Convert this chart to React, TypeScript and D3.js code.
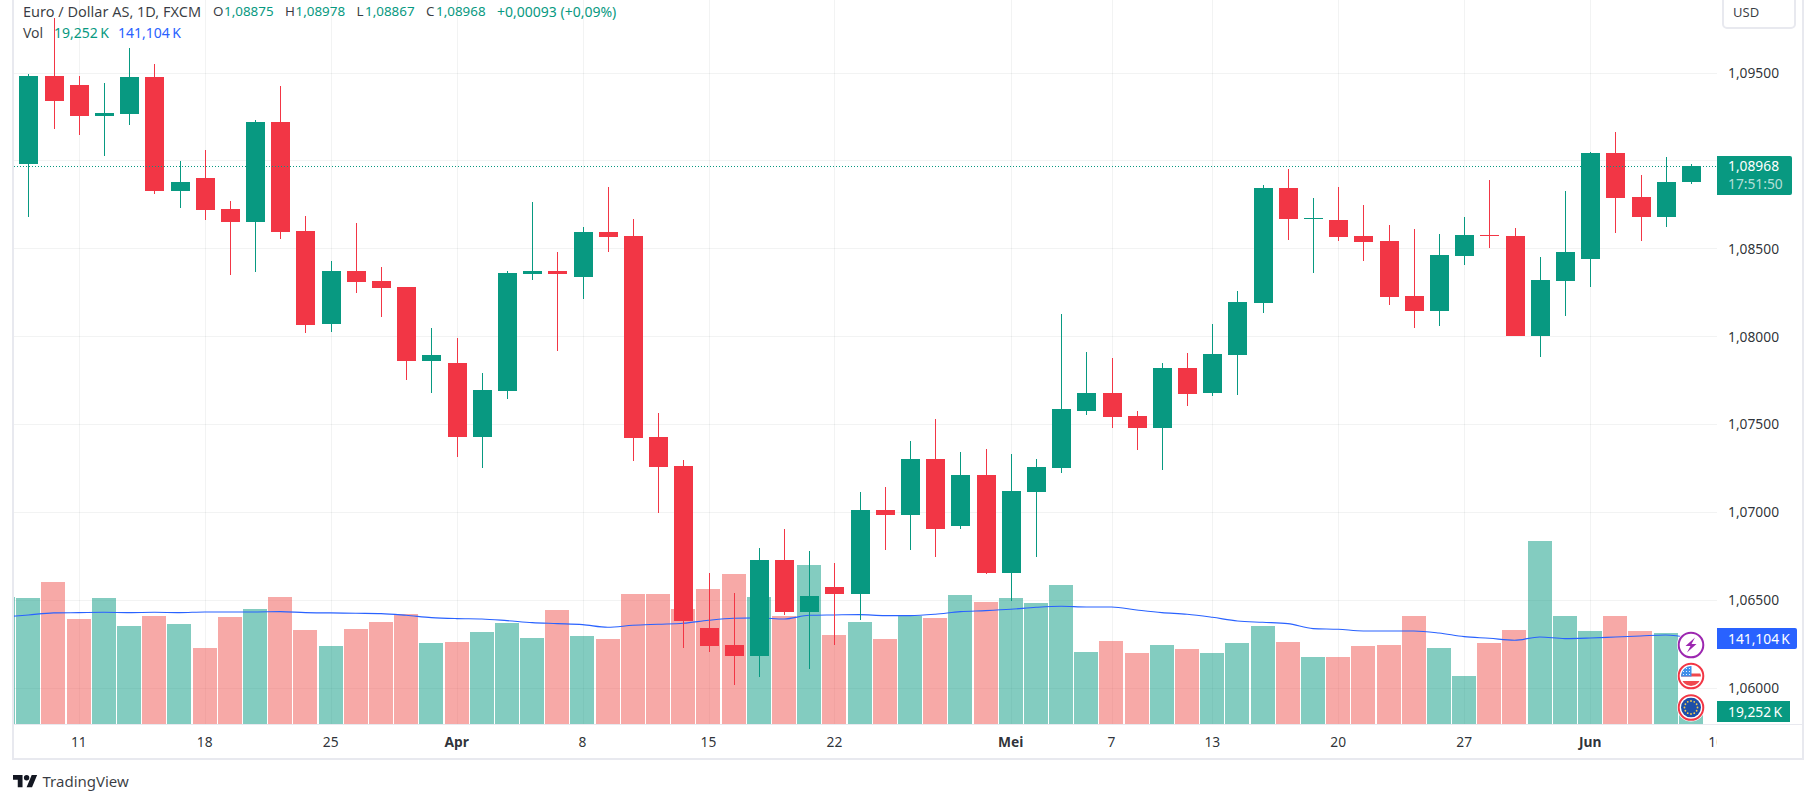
import * as d3 from "d3";

// daily EUR/USD candles, 7 Mar onward
const opens = [
  1.08979, 1.0948, 1.09429, 1.09252, 1.09264, 1.09474, 1.08826, 1.089, 1.08723, 1.08649, 1.09218, 1.08598,
  1.08069, 1.0837, 1.08313, 1.08279, 1.07858, 1.07847, 1.07426, 1.07687, 1.08353, 1.0837, 1.08336, 1.08592,
  1.0857, 1.07426, 1.07261, 1.06339, 1.06242, 1.06179, 1.06726, 1.0643, 1.06572, 1.06532, 1.0701, 1.06982,
  1.073, 1.06919, 1.07209, 1.06652, 1.07113, 1.07249, 1.07574, 1.07676, 1.07545, 1.07477, 1.07818, 1.07676,
  1.07892, 1.08188, 1.08843, 1.08666, 1.08661, 1.0857, 1.08541, 1.08228, 1.08143, 1.08456, 1.08575, 1.0857,
  1.08, 1.08313, 1.08439, 1.09042, 1.08791, 1.08678, 1.08875,
];
const closes = [
  1.0948, 1.0934, 1.09252, 1.0927, 1.09474, 1.08826, 1.08877, 1.08717, 1.08649, 1.09218, 1.08592, 1.08063,
  1.0837, 1.08308, 1.08274, 1.07858, 1.07892, 1.07426, 1.07693, 1.08359, 1.0837, 1.08353, 1.08592, 1.08564,
  1.0742, 1.07255, 1.06378, 1.06236, 1.06179, 1.06726, 1.0643, 1.06521, 1.06532, 1.0701, 1.06982, 1.073,
  1.06902, 1.07209, 1.06652, 1.07118, 1.07255, 1.07585, 1.07676, 1.07539, 1.07477, 1.07818, 1.0767, 1.07898,
  1.08194, 1.08843, 1.08666, 1.08672, 1.08564, 1.08535, 1.08222, 1.08143, 1.08461, 1.08575, 1.0857, 1.08,
  1.08319, 1.08478, 1.09042, 1.08786, 1.08678, 1.08877, 1.08968,
];
const highs = [
  1.09491, 1.09808, 1.0948, 1.0944, 1.09639, 1.09548, 1.08996, 1.09059, 1.08769, 1.0923, 1.09423, 1.08683,
  1.08427, 1.08644, 1.08393, 1.08279, 1.08046, 1.07989, 1.0779, 1.0837, 1.08763, 1.08478, 1.08621, 1.08848,
  1.08666, 1.07562, 1.07295, 1.06652, 1.06538, 1.06794, 1.06902, 1.06777, 1.06709, 1.07113, 1.07141, 1.07403,
  1.07528, 1.0734, 1.07357, 1.07329, 1.073, 1.08126, 1.07909, 1.07875, 1.07574, 1.07847, 1.07904, 1.08069,
  1.08257, 1.0886, 1.08951, 1.08786, 1.08848, 1.08746, 1.08632, 1.08609, 1.08581, 1.08678, 1.08888, 1.08615,
  1.0845, 1.08826, 1.09048, 1.09161, 1.08917, 1.09019, 1.08978,
];
const lows = [
  1.0868, 1.09178, 1.09144, 1.09025, 1.09201, 1.08809, 1.08729, 1.08661, 1.08348, 1.08365, 1.08552, 1.08018,
  1.08023, 1.08245, 1.08109, 1.0775, 1.07676, 1.07312, 1.07249, 1.07642, 1.08319, 1.07915, 1.08211, 1.08478,
  1.07289, 1.06993, 1.06225, 1.06202, 1.06014, 1.0606, 1.06413, 1.06105, 1.06242, 1.06384, 1.06783, 1.06783,
  1.06743, 1.06902, 1.06646, 1.06492, 1.06743, 1.07221, 1.07551, 1.07477, 1.07352, 1.07238, 1.07602, 1.07659,
  1.07665, 1.08131, 1.08547, 1.08359, 1.08541, 1.08427, 1.08177, 1.08046, 1.08057, 1.08404, 1.08501, 1.08,
  1.07881, 1.08114, 1.08279, 1.08587, 1.08541, 1.08621, 1.08867,
];

// volume in thousands, first entry is the bar before the first candle
const volumes = [
  207.5, 206.7, 232.9, 172.2, 206.7, 160.7, 177.1, 164, 124.6, 175.5, 188.6, 208.3, 154.2, 127.9, 155.8, 167.3,
  180.4, 132.8, 134.5, 150.9, 165.6, 141, 187, 144.3, 139.4, 213.2, 213.2, 188.6, 221.4, 246, 208.3, 177.1,
  260.8, 146, 167.3, 139.4, 177.1, 173.9, 211.6, 200.1, 206.7, 198.5, 228, 118.1, 136.1, 116.4, 129.6, 123,
  116.4, 132.8, 160.7, 134.5, 109.9, 109.9, 127.9, 129.6, 177.1, 124.6, 78.7, 132.8, 154.2, 300.1, 177.1, 152.5,
  177.1, 152.5, 149.2, 19.252,
];
const volumeMA = [
  175.5, 178.8, 182.1, 182.6, 183.1, 182.6, 183.1, 182.6, 183.7, 183.7, 183.7, 184.2, 182.6, 182.1, 181.5, 181,
  178.2, 174.4, 172.8, 172.2, 169.5, 166.2, 164.6, 162.9, 158.5, 161.8, 163.5, 165.1, 170, 173.3, 173.9, 172.2,
  178.2, 178.8, 179.3, 177.7, 177.7, 179.9, 184.2, 185.9, 188.1, 191.3, 193, 191.9, 191.9, 187, 182.6, 179.9,
  174.9, 168.9, 166.7, 164.6, 156.4, 155.3, 152.5, 152.5, 152.5, 149.2, 143.2, 140.5, 137.2, 142.7, 140, 141,
  142.7, 144.3, 146, 141.1,
];

const priceTicks = [1.095, 1.09, 1.085, 1.08, 1.075, 1.07, 1.065, 1.06];
const dateTickBars = [2, 7, 12, 17, 22, 27, 32, 39, 43, 47, 52, 57, 62, 67];
const dateTickLabels = ["11", "18", "25", "Apr", "8", "15", "22", "Mei", "7", "13", "20", "27", "Jun", "10"];
const monthLabels = ["Apr", "Mei", "Jun"];
const lastPrice = 1.08968;

const UP = "#089981";
const DOWN = "#F23645";
const VOL_UP = "rgba(8,153,129,0.5)";
const VOL_DOWN = "rgba(239,83,80,0.5)";
const BLUE = "#2962FF";
const GRID = "rgba(42,46,57,0.06)";
const BORDER = "#E8E9EF";
const INK = "#131722";
const FONT = "'Noto Sans', sans-serif";

const WIDTH = 1815;
const HEIGHT = 803;
const PANE_LEFT = 14;
const PANE_RIGHT = 1717;
const PANE_BOTTOM = 724;

const x = d3.scaleLinear().domain([0, 66]).range([28.4, 1690.9]);
const y = d3.scaleLinear().domain([1.06, 1.095]).range([687.5, 72.5]);
const yVol = d3.scaleLinear().domain([0, 300]).range([PANE_BOTTOM, 541]);

const step = x(1) - x(0);
const fmtPrice = (p: number) => d3.format(".5f")(p).replace(".", ",");

const maLine = d3
  .line<number>()
  .x((_, i) => x(i - 1))
  .y((d) => yVol(d))
  .curve(d3.curveMonotoneX);

// TradingView mark, 36 units wide
const LOGO_PATH = "M14 22H7V11H0V4h14v18zM28 22h-8l7.5-18h8L28 22z";

function Header() {
  const t = { fontFamily: FONT, fontSize: 13.4, dominantBaseline: "central" as const };
  return (
    <g {...t}>
      <text x={23} y={11} fontSize={14.5} fill={INK} fillOpacity={0.85}>Euro / Dollar AS, 1D, FXCM</text>
      <text x={213} y={11} fill={INK} fillOpacity={0.85}>O</text>
      <text x={224} y={11} fill={UP}>1,08875</text>
      <text x={285} y={11} fill={INK} fillOpacity={0.85}>H</text>
      <text x={295.5} y={11} fill={UP}>1,08978</text>
      <text x={356.5} y={11} fill={INK} fillOpacity={0.85}>L</text>
      <text x={365} y={11} fill={UP}>1,08867</text>
      <text x={426} y={11} fill={INK} fillOpacity={0.85}>C</text>
      <text x={436} y={11} fill={UP}>1,08968</text>
      <text x={497} y={11} fontSize={14} fill={UP}>+0,00093 (+0,09%)</text>
      <text x={23} y={32} fontSize={14} fill={INK} fillOpacity={0.85}>Vol</text>
      <text x={54} y={32} fontSize={14} fill={UP}>19,252{"\u202f"}K</text>
      <text x={118} y={32} fontSize={14} fill={BLUE}>141,104{"\u202f"}K</text>
    </g>
  );
}

function SourceIcons() {
  const cx = 1691;
  const stars = d3.range(12).map((i) => (i / 12) * Math.PI * 2);
  return (
    <g>
      <defs>
        <clipPath id="flag-us"><circle cx={cx} cy={676} r={10} /></clipPath>
        <clipPath id="flag-eu"><circle cx={cx} cy={707.5} r={10} /></clipPath>
      </defs>
      <circle cx={cx} cy={645} r={14} fill="#fff" />
      <circle cx={cx} cy={645} r={12.3} fill="#fff" stroke="#9C27B0" strokeWidth={2} />
      <path
        d={`M${cx + 4} ${645 - 7.5}L${cx - 5.5} ${645 + 1}H${cx - 0.5}L${cx - 4} ${645 + 7.5}L${cx + 5.5} ${645 - 1}H${cx + 0.5}Z`}
        fill="#9C27B0"
      />
      <circle cx={cx} cy={676} r={14} fill="#fff" />
      <circle cx={cx} cy={676} r={12.3} fill="#fff" stroke={DOWN} strokeWidth={2} />
      <g clipPath="url(#flag-us)">
        <rect x={cx - 10} y={666} width={20} height={20} fill="#fff" />
        <rect x={cx - 10} y={673.5} width={20} height={3} fill="#F0484E" />
        <rect x={cx - 10} y={681} width={20} height={5} fill="#F0484E" />
        <rect x={cx - 10} y={666} width={10.5} height={10.5} fill="#3E8FEA" />
        {d3.range(3).flatMap((r) =>
          d3.range(3).map((c) => (
            <circle key={`${r}-${c}`} cx={cx - 7.5 + c * 3} cy={668.5 + r * 3} r={0.6} fill="#fff" />
          )),
        )}
      </g>
      <circle cx={cx} cy={707.5} r={14} fill="#fff" />
      <circle cx={cx} cy={707.5} r={12.3} fill="#fff" stroke={DOWN} strokeWidth={2} />
      <g clipPath="url(#flag-eu)">
        <rect x={cx - 10} y={697.5} width={20} height={20} fill="#1D4FA8" />
        {stars.map((a) => (
          <circle key={a} cx={cx + 6.5 * Math.cos(a)} cy={707.5 + 6.5 * Math.sin(a)} r={0.9} fill="#F2C94C" />
        ))}
      </g>
    </g>
  );
}

export default function App() {
  return (
    <svg
      width={WIDTH}
      height={HEIGHT}
      style={{ position: "absolute", left: 0, top: 0, display: "block", background: "#fff" }}
    >
      <defs>
        <clipPath id="pane"><rect x={PANE_LEFT} y={0} width={PANE_RIGHT - PANE_LEFT} height={PANE_BOTTOM} /></clipPath>
        <clipPath id="time-axis"><rect x={PANE_LEFT} y={PANE_BOTTOM} width={PANE_RIGHT - PANE_LEFT - 0.5} height={35} /></clipPath>
      </defs>

      {/* frame */}
      <g shapeRendering="crispEdges">
        <rect x={12} y={0} width={2} height={760} fill={BORDER} />
        <rect x={1802} y={0} width={2} height={760} fill={BORDER} />
        <rect x={12} y={758} width={1792} height={2} fill={BORDER} />
        <rect x={14} y={724} width={1788} height={1} fill={BORDER} />
      </g>

      <g clipPath="url(#pane)">
        {/* grid */}
        <g shapeRendering="crispEdges" stroke={GRID}>
          {priceTicks.map((p) => (
            <line key={p} x1={PANE_LEFT} x2={PANE_RIGHT} y1={Math.round(y(p)) + 0.5} y2={Math.round(y(p)) + 0.5} />
          ))}
          {dateTickBars.slice(0, -1).map((b) => (
            <line key={b} x1={Math.round(x(b)) + 0.5} x2={Math.round(x(b)) + 0.5} y1={0} y2={PANE_BOTTOM} />
          ))}
        </g>

        {/* volume */}
        <g shapeRendering="crispEdges">
          {volumes.map((v, k) => {
            const i = k - 1;
            const up = i < 0 || closes[i] >= opens[i];
            return (
              <rect
                key={k}
                x={Math.round(x(i) - step / 2 + 0.5)}
                width={Math.round(step) - 1}
                y={yVol(v)}
                height={PANE_BOTTOM - yVol(v)}
                fill={up ? VOL_UP : VOL_DOWN}
              />
            );
          })}
        </g>

        <path d={maLine(volumeMA) ?? ""} fill="none" stroke={BLUE} strokeWidth={1.1} />

        {/* candles */}
        <g shapeRendering="crispEdges">
          {opens.map((o, i) => {
            const c = closes[i];
            const color = c >= o ? UP : DOWN;
            const cx = Math.round(x(i));
            const top = Math.round(y(Math.max(o, c)));
            const bottom = Math.round(y(Math.min(o, c)));
            return (
              <g key={i} fill={color}>
                <rect x={cx} width={1} y={y(highs[i])} height={y(lows[i]) - y(highs[i])} />
                <rect x={cx - 9} width={19} y={top} height={Math.max(1, bottom - top)} />
              </g>
            );
          })}
        </g>

        <line
          x1={PANE_LEFT}
          x2={PANE_RIGHT}
          y1={Math.round(y(lastPrice)) + 0.5}
          y2={Math.round(y(lastPrice)) + 0.5}
          stroke={UP}
          strokeDasharray="1 2"
          shapeRendering="crispEdges"
        />
      </g>

      <Header />

      {/* price axis */}
      <g fontFamily={FONT} fontSize={13.8} dominantBaseline="central">
        {priceTicks.map((p) => (
          <text key={p} x={1728} y={y(p)} fill={INK} fillOpacity={0.9}>{fmtPrice(p)}</text>
        ))}
      </g>

      <path
        d="M1723 -4V24a4 4 0 0 0 4 4H1791a4 4 0 0 0 4 -4V-4"
        fill="#fff"
        stroke={BORDER}
        strokeWidth={2}
      />
      <text x={1733} y={11.5} fontFamily={FONT} fontSize={13} fill={INK} fillOpacity={0.85} dominantBaseline="central">USD</text>

      {/* last price and volume labels */}
      <g fontFamily={FONT} fontSize={13.8} dominantBaseline="central">
        <path d="M1717 156H1790a2 2 0 0 1 2 2V193a2 2 0 0 1 -2 2H1717Z" fill={UP} />
        <text x={1728} y={165.5} fill="#fff">{fmtPrice(lastPrice)}</text>
        <text x={1728} y={183.5} fill="#fff" fillOpacity={0.7}>17:51:50</text>
        <path d="M1717 628H1795a2 2 0 0 1 2 2V647a2 2 0 0 1 -2 2H1717Z" fill={BLUE} />
        <text x={1728} y={638.5} fill="#fff">141,104{"\u202f"}K</text>
        <rect x={1717} y={701} width={73} height={21} fill={UP} />
        <text x={1728} y={711.5} fill="#fff">19,252{"\u202f"}K</text>
      </g>

      <SourceIcons />

      {/* time axis */}
      <g clipPath="url(#time-axis)" fontFamily={FONT} fontSize={13.8} textAnchor="middle" dominantBaseline="central" fill={INK} fillOpacity={0.9}>
        {dateTickBars.map((b, i) => (
          <text key={b} x={x(b)} y={741.5} fontWeight={monthLabels.includes(dateTickLabels[i]) ? 700 : 400}>
            {dateTickLabels[i]}
          </text>
        ))}
      </g>

      {/* footer */}
      <g transform="translate(13,772.3) scale(0.68)" fill={INK}>
        <path d={LOGO_PATH} />
        <circle cx={20} cy={8} r={4} />
      </g>
      <text x={42.5} y={781} fontFamily={FONT} fontSize={15} fill={INK} fillOpacity={0.85} dominantBaseline="central">TradingView</text>
    </svg>
  );
}
